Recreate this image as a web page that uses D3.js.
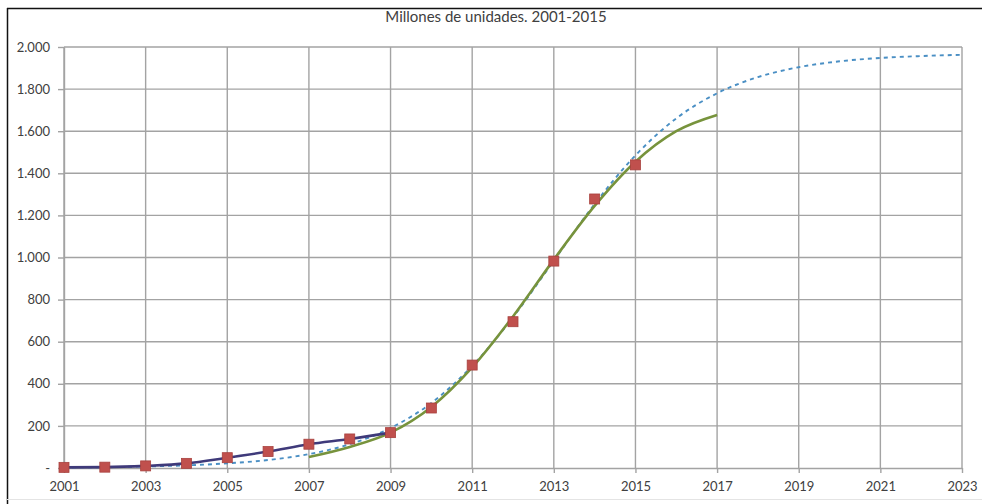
<!DOCTYPE html>
<html>
<head>
<meta charset="utf-8">
<script src="https://cdn.jsdelivr.net/npm/d3@7"></script>
<style>
  html, body { margin: 0; padding: 0; background: #fff; }
  svg { display: block; }
  text { font-family: Lato, "Open Sans", "Noto Sans", sans-serif; fill: #404040; }
</style>
</head>
<body>
<svg id="chart" width="982" height="504"></svg>
<script>
// Observed units (millions), yearly
const obsYears = [2001, 2002, 2003, 2004, 2005, 2006, 2007, 2008, 2009, 2010, 2011, 2012, 2013, 2014, 2015];
const obsValues = [3, 4, 10, 22, 49, 78, 113, 138, 168, 285, 489, 695, 983, 1278, 1440];

// Early-phase smoothed line (2001-2009)
const earlyYears = [2001, 2002, 2003, 2004, 2005, 2006, 2007, 2008, 2009];
const earlyValues = [3, 4, 10, 22, 49, 78, 113, 138, 168];

// Fitted growth curve 2007-2017
const fitYears = [2007, 2008, 2009, 2010, 2011, 2012, 2013, 2014, 2015, 2016, 2017];
const fitValues = [52, 100, 168, 290, 478, 720, 990, 1245, 1455, 1600, 1677];

// Long-range projection 2001-2023
const projYears = [2001, 2002, 2003, 2004, 2005, 2006, 2007, 2008, 2009, 2010, 2011, 2012,
                   2013, 2014, 2015, 2016, 2017, 2018, 2019, 2020, 2021, 2022, 2023];
const projValues = [2.4, 4.2, 7.3, 12.7, 22, 38, 66, 113, 190, 309, 485, 716,
                    985, 1254, 1485, 1661, 1780, 1857, 1904, 1932, 1948, 1957, 1963];

// Axis ticks
const xTicks = [2001, 2003, 2005, 2007, 2009, 2011, 2013, 2015, 2017, 2019, 2021, 2023];
const yTicks = [0, 200, 400, 600, 800, 1000, 1200, 1400, 1600, 1800, 2000];
const yTickLabels = ["-", "200", "400", "600", "800", "1.000", "1.200", "1.400", "1.600", "1.800", "2.000"];
const titleText = "Millones de unidades. 2001-2015";

const svg = d3.select("#chart");

// frame of the chart area
svg.append("line").attr("x1", 7).attr("x2", 982).attr("y1", 8.5).attr("y2", 8.5)
  .attr("stroke", "#111").attr("stroke-width", 1.5);
svg.append("line").attr("x1", 7.5).attr("x2", 7.5).attr("y1", 8).attr("y2", 504)
  .attr("stroke", "#111").attr("stroke-width", 1.5);
svg.append("line").attr("x1", 7).attr("x2", 982).attr("y1", 499.5).attr("y2", 499.5)
  .attr("stroke", "#e4e4e4").attr("stroke-width", 1);

const x = d3.scaleLinear().domain([2001, 2023]).range([64, 962]);
const y = d3.scaleLinear().domain([0, 2000]).range([468, 47]);

const gridColor = "#a3a3a3";
const labelFont = "Lato, 'Open Sans', sans-serif";

// horizontal gridlines
svg.append("g").selectAll("line").data(yTicks.filter(d => d > 0)).join("line")
  .attr("x1", x(2001)).attr("x2", x(2023))
  .attr("y1", d => y(d)).attr("y2", d => y(d))
  .attr("stroke", gridColor).attr("stroke-width", 1.4);

// vertical gridlines
svg.append("g").selectAll("line").data(xTicks).join("line")
  .attr("x1", d => x(d)).attr("x2", d => x(d))
  .attr("y1", y(2000)).attr("y2", y(0))
  .attr("stroke", gridColor).attr("stroke-width", 1.4);

// x axis
const xAxis = d3.axisBottom(x).tickValues(xTicks).tickFormat(d3.format("d"))
  .tickSizeInner(5).tickSizeOuter(0).tickPadding(9);
const gx = svg.append("g").attr("transform", `translate(0,${y(0)})`).call(xAxis);
gx.select(".domain").attr("stroke", gridColor).attr("stroke-width", 1.4);
gx.selectAll(".tick line").attr("stroke", gridColor).attr("stroke-width", 1.4);
gx.selectAll(".tick text").attr("font-size", 13).attr("fill", "#333")
  .style("font-family", labelFont);

// y axis
const yAxis = d3.axisLeft(y).tickValues(yTicks)
  .tickFormat((d, i) => yTickLabels[i]).tickSizeInner(6).tickSizeOuter(0).tickPadding(8);
const gy = svg.append("g").attr("transform", `translate(${x(2001)},0)`).call(yAxis);
gy.select(".domain").attr("stroke", gridColor).attr("stroke-width", 1.4);
gy.selectAll(".tick line").attr("stroke", gridColor).attr("stroke-width", 1.4);
gy.selectAll(".tick text").attr("font-size", 13).attr("fill", "#333")
  .style("font-family", labelFont);

// title
svg.append("text").attr("x", 496).attr("y", 22).attr("text-anchor", "middle")
  .attr("font-size", 15).attr("fill", "#1a1a1a").text(titleText);

const lineGen = d3.line().x(d => x(d[0])).y(d => y(d[1])).curve(d3.curveMonotoneX);

// projection (dotted)
svg.append("path").datum(d3.zip(projYears, projValues))
  .attr("d", lineGen).attr("fill", "none")
  .attr("stroke", "#4a8fc4").attr("stroke-width", 1.9)
  .attr("stroke-dasharray", "4,4");

// fitted curve
svg.append("path").datum(d3.zip(fitYears, fitValues))
  .attr("d", lineGen).attr("fill", "none")
  .attr("stroke", "#77933c").attr("stroke-width", 2.6);

// early-phase line
svg.append("path").datum(d3.zip(earlyYears, earlyValues))
  .attr("d", lineGen).attr("fill", "none")
  .attr("stroke", "#3f3a7a").attr("stroke-width", 2.6);

// observed markers
const ms = 10;
svg.append("g").selectAll("rect").data(d3.zip(obsYears, obsValues)).join("rect")
  .attr("x", d => x(d[0]) - ms / 2).attr("y", d => y(d[1]) - ms / 2)
  .attr("width", ms).attr("height", ms)
  .attr("fill", "#c0504d").attr("stroke", "#a8413e").attr("stroke-width", 0.8);
</script>
</body>
</html>
